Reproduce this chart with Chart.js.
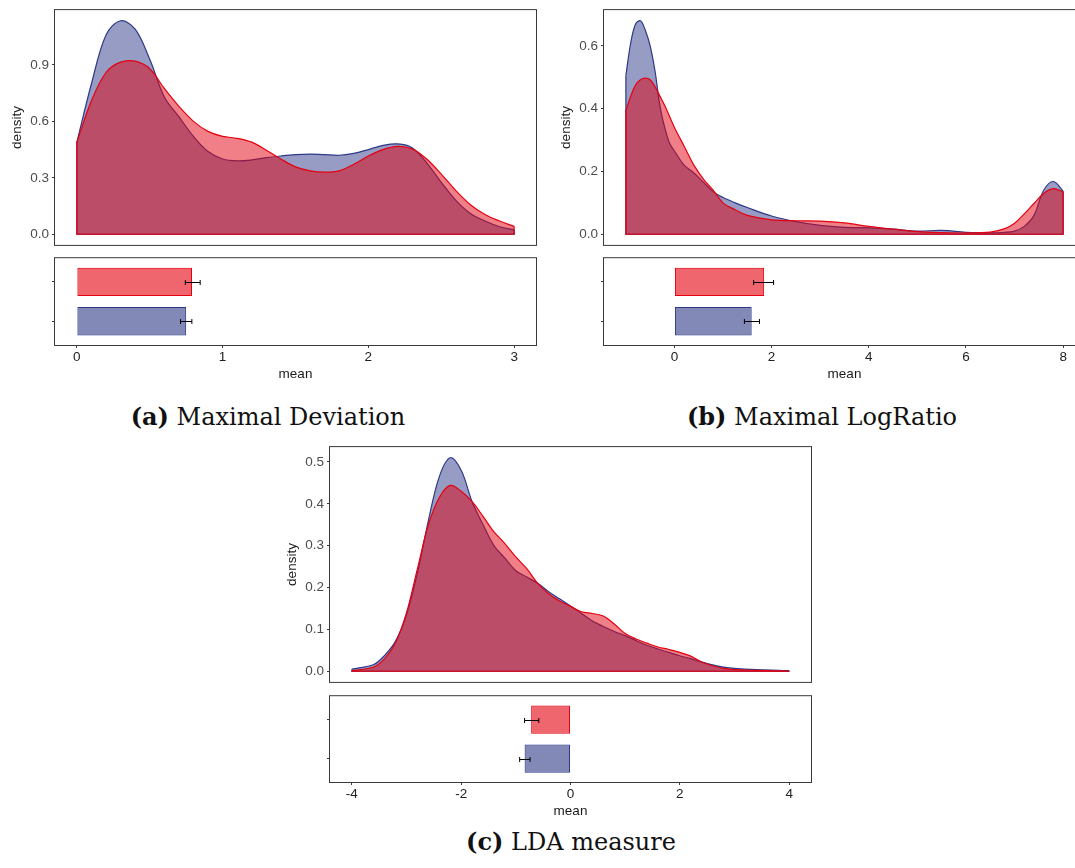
<!DOCTYPE html>
<html>
<head>
<meta charset="utf-8">
<script src="https://cdn.jsdelivr.net/npm/chart.js@4.4.0/dist/chart.umd.min.js"></script>
<style>
  body { margin: 0; background: #fff; width: 1075px; height: 868px; overflow: hidden; position: relative; }
  canvas { position: absolute; }
  .cap { position: absolute; width: 500px; text-align: center; font-family: "DejaVu Serif", serif;
         font-size: 24px; line-height: 24px; color: #111; white-space: nowrap; }
</style>
</head>
<body>
<div class="cap" style="left:18px;top:405px"><b>(a)</b> Maximal Deviation</div>
<div class="cap" style="left:572px;top:405px"><b>(b)</b> Maximal LogRatio</div>
<div class="cap" style="left:321px;top:830px"><b>(c)</b> LDA measure</div>
<script>
// (a) Maximal Deviation
const devX    = [0,0.1,0.2,0.3,0.4,0.5,0.6,0.7,0.8,0.9,1.0,1.1,1.2,1.3,1.4,1.5,1.6,1.7,1.8,1.9,2.0,2.1,2.2,2.3,2.4,2.5,2.6,2.7,2.8,2.9,3.0];
const devBlue = [0.49,0.80,1.06,1.135,1.09,0.93,0.73,0.625,0.52,0.44,0.40,0.39,0.395,0.407,0.416,0.423,0.426,0.423,0.42,0.43,0.45,0.472,0.48,0.46,0.38,0.276,0.18,0.11,0.07,0.04,0.023];
const devRed  = [0.49,0.71,0.86,0.915,0.92,0.88,0.775,0.68,0.60,0.547,0.52,0.51,0.49,0.447,0.40,0.358,0.337,0.33,0.337,0.372,0.416,0.45,0.467,0.454,0.40,0.32,0.232,0.157,0.105,0.07,0.042];
const devDensTicks = [0, 0.3, 0.6, 0.9];
const devMeanTicks = [0, 1, 2, 3];
const devMean = [0.75, 0.79];          // blue, red
const devLo   = [0.711, 0.744];
const devHi   = [0.789, 0.846];

// (b) Maximal LogRatio
const lrX    = [-1,-0.9,-0.8,-0.7,-0.6,-0.5,-0.4,-0.3,-0.2,-0.1,0,0.2,0.4,0.6,0.8,1.0,1.25,1.5,2,2.5,3,3.5,4,4.5,5,5.5,6,6.5,6.8,7,7.2,7.4,7.6,7.8,8];
const lrBlue = [0.505,0.61,0.67,0.68,0.65,0.60,0.52,0.41,0.34,0.29,0.265,0.22,0.195,0.165,0.135,0.117,0.10,0.085,0.058,0.04,0.028,0.022,0.02,0.016,0.01,0.012,0.006,0.004,0.006,0.01,0.025,0.06,0.14,0.168,0.137];
const lrRed  = [0.393,0.44,0.475,0.492,0.497,0.492,0.47,0.44,0.41,0.375,0.34,0.28,0.22,0.175,0.14,0.10,0.078,0.06,0.046,0.043,0.042,0.036,0.025,0.016,0.008,0.005,0.004,0.007,0.018,0.035,0.065,0.098,0.13,0.145,0.135];
const lrDensTicks = [0, 0.2, 0.4, 0.6];
const lrMeanTicks = [0, 2, 4, 6, 8];
const lrMean = [1.59, 1.846];
const lrLo   = [1.44, 1.63];
const lrHi   = [1.75, 2.04];

// (c) LDA measure
const ldaX    = [-4,-3.6,-3.4,-3.2,-3.0,-2.8,-2.6,-2.4,-2.2,-2.0,-1.8,-1.6,-1.4,-1.2,-1.0,-0.8,-0.6,-0.4,-0.2,0,0.2,0.4,0.6,0.8,1.0,1.2,1.4,1.6,1.8,2.0,2.2,2.4,2.6,2.8,3.0,3.4,4.0];
const ldaBlue = [0.005,0.016,0.038,0.072,0.135,0.235,0.36,0.465,0.51,0.48,0.405,0.35,0.30,0.27,0.24,0.225,0.21,0.19,0.173,0.156,0.138,0.12,0.107,0.095,0.085,0.073,0.062,0.053,0.045,0.037,0.03,0.022,0.015,0.01,0.007,0.004,0.0015];
const ldaRed  = [0.001,0.01,0.03,0.068,0.14,0.245,0.35,0.415,0.444,0.43,0.405,0.37,0.333,0.305,0.273,0.245,0.21,0.185,0.168,0.155,0.142,0.138,0.132,0.113,0.09,0.077,0.067,0.058,0.052,0.045,0.036,0.022,0.013,0.007,0.004,0.002,0.0];
const ldaDensTicks = [0, 0.1, 0.2, 0.3, 0.4, 0.5];
const ldaMeanTicks = [-4, -2, 0, 2, 4];
const ldaMean = [-0.84, -0.72];
const ldaLo   = [-0.93, -0.84];
const ldaHi   = [-0.74, -0.58];

const BLUE = '46,58,135';
const RED = '228,0,15';
const BOX = '#3a3a3a';
const FONT = 13.5;
Chart.defaults.font.family = '"Liberation Sans", Arial, sans-serif';

// panel frame around the chart area
const boxPlugin = {
  id: 'box',
  afterDatasetsDraw(chart) {
    const a = chart.chartArea, ctx = chart.ctx;
    ctx.save();
    ctx.strokeStyle = BOX;
    ctx.lineWidth = 1;
    ctx.strokeRect(a.left - 0.5, a.top - 0.5, a.right - a.left + 1, a.bottom - a.top + 1);
    ctx.restore();
  }
};

// horizontal error bars for the mean plot
const errPlugin = {
  id: 'errbars',
  afterDatasetsDraw(chart, args, opts) {
    const xs = chart.scales.x, ys = chart.scales.y, ctx = chart.ctx;
    const pts = chart.data.datasets[0].data;
    ctx.save();
    ctx.strokeStyle = '#000';
    ctx.lineWidth = 1;
    pts.forEach((d, i) => {
      const y = Math.round(ys.getPixelForValue(d.y)) + 0.5;
      const x1 = xs.getPixelForValue(opts.lo[i]), x2 = xs.getPixelForValue(opts.hi[i]);
      ctx.beginPath();
      ctx.moveTo(x1, y); ctx.lineTo(x2, y);
      ctx.moveTo(x1, y - 2.5); ctx.lineTo(x1, y + 2.5);
      ctx.moveTo(x2, y - 2.5); ctx.lineTo(x2, y + 2.5);
      ctx.stroke();
    });
    ctx.restore();
  }
};

function curve(xs, ys, col) {
  return {
    data: xs.map((x, i) => ({x: x, y: ys[i]})),
    borderColor: 'rgb(' + col + ')', borderWidth: 1.2,
    backgroundColor: 'rgba(' + col + ',0.5)', fill: 'origin',
    pointRadius: 0, tension: 0.35
  };
}

// vertical ends and the base line of the density polygon
function edges(xs, ys, col) {
  const n = xs.length - 1;
  return {
    data: [{x: xs[0], y: ys[0]}, {x: xs[0], y: 0}, {x: xs[n], y: 0}, {x: xs[n], y: ys[n]}],
    borderColor: 'rgb(' + col + ')', borderWidth: 1.2,
    fill: false, pointRadius: 0, tension: 0
  };
}

function panel(p) {
  const padL = 60, padR = 12;
  const w = p.right - p.left + padL + padR;
  const n = p.xs.length - 1;
  const xr = p.xs[n] - p.xs[0];
  const xmin = p.xs[0] - 0.05 * xr, xmax = p.xs[n] + 0.05 * xr;
  const ymax = Math.max(...p.blue, ...p.red);

  const c1 = document.createElement('canvas');
  c1.width = w; c1.height = p.dBot - p.dTop + 20;
  c1.style.left = (p.left - padL) + 'px';
  c1.style.top = (p.dTop - 10) + 'px';
  document.body.appendChild(c1);

  new Chart(c1, {
    type: 'line',
    data: { datasets: [
      edges(p.xs, p.red, RED), curve(p.xs, p.red, RED),
      edges(p.xs, p.blue, BLUE), curve(p.xs, p.blue, BLUE)
    ]},
    options: {
      responsive: false, animation: false, devicePixelRatio: 1,
      layout: { padding: {left: 0, top: 10, right: padR, bottom: 10}, autoPadding: false },
      plugins: { legend: {display: false}, tooltip: {enabled: false} },
      scales: {
        x: { type: 'linear', display: false, min: xmin, max: xmax },
        y: {
          type: 'linear', min: -0.05 * ymax, max: 1.05 * ymax,
          afterFit: s => { s.width = padL; },
          afterBuildTicks: s => { s.ticks = p.densTicks.map(v => ({value: v})); },
          ticks: { callback: v => v.toFixed(1), color: '#4d4d4d', font: {size: FONT}, padding: 3 },
          grid: { drawOnChartArea: false, tickLength: 3, color: BOX },
          border: { display: false },
          title: { display: true, text: 'density', color: '#1a1a1a', font: {size: FONT}, padding: {top: 14, bottom: 0} }
        }
      }
    },
    plugins: [boxPlugin]
  });

  const c2 = document.createElement('canvas');
  c2.width = w; c2.height = p.bBot - p.bTop + 10 + 45;
  c2.style.left = (p.left - padL) + 'px';
  c2.style.top = (p.bTop - 10) + 'px';
  document.body.appendChild(c2);

  new Chart(c2, {
    type: 'bar',
    data: { datasets: [{
      data: [{x: p.mean[1], y: 2}, {x: p.mean[0], y: 1}],
      backgroundColor: ['rgba(' + RED + ',0.6)', 'rgba(' + BLUE + ',0.6)'],
      borderColor: ['rgb(' + RED + ')', 'rgb(' + BLUE + ')'],
      borderWidth: 1, borderSkipped: false, barPercentage: 0.72, categoryPercentage: 1
    }]},
    options: {
      indexAxis: 'y',
      responsive: false, animation: false, devicePixelRatio: 1,
      layout: { padding: {left: 0, top: 10, right: padR, bottom: 0}, autoPadding: false },
      plugins: { legend: {display: false}, tooltip: {enabled: false},
                 errbars: { lo: [p.lo[1], p.lo[0]], hi: [p.hi[1], p.hi[0]] } },
      scales: {
        x: {
          type: 'linear', min: xmin, max: xmax,
          afterFit: s => { s.height = 45; },
          afterBuildTicks: s => { s.ticks = p.meanTicks.map(v => ({value: v})); },
          ticks: { callback: v => String(v), color: '#222', font: {size: FONT}, padding: 1, maxRotation: 0, autoSkip: false },
          grid: { drawOnChartArea: false, tickLength: 3, color: BOX },
          border: { display: false },
          title: { display: true, text: 'mean', color: '#1a1a1a', font: {size: FONT}, padding: {top: 0, bottom: 8} }
        },
        y: {
          type: 'linear', min: 0.4, max: 2.6, offset: false,
          afterFit: s => { s.width = padL; },
          afterBuildTicks: s => { s.ticks = [{value: 1}, {value: 2}]; },
          ticks: { callback: () => '' },
          grid: { drawOnChartArea: false, offset: false, tickLength: 3, color: BOX },
          border: { display: false }
        }
      }
    },
    plugins: [boxPlugin, errPlugin]
  });
}

panel({ xs: devX, blue: devBlue, red: devRed, densTicks: devDensTicks, meanTicks: devMeanTicks,
        mean: devMean, lo: devLo, hi: devHi,
        left: 55, right: 536, dTop: 9, dBot: 246, bTop: 258, bBot: 345 });
panel({ xs: lrX, blue: lrBlue, red: lrRed, densTicks: lrDensTicks, meanTicks: lrMeanTicks,
        mean: lrMean, lo: lrLo, hi: lrHi,
        left: 604, right: 1085, dTop: 9, dBot: 246, bTop: 258, bBot: 345 });
panel({ xs: ldaX, blue: ldaBlue, red: ldaRed, densTicks: ldaDensTicks, meanTicks: ldaMeanTicks,
        mean: ldaMean, lo: ldaLo, hi: ldaHi,
        left: 330, right: 811, dTop: 446, dBot: 683, bTop: 696, bBot: 782 });
</script>
</body>
</html>
